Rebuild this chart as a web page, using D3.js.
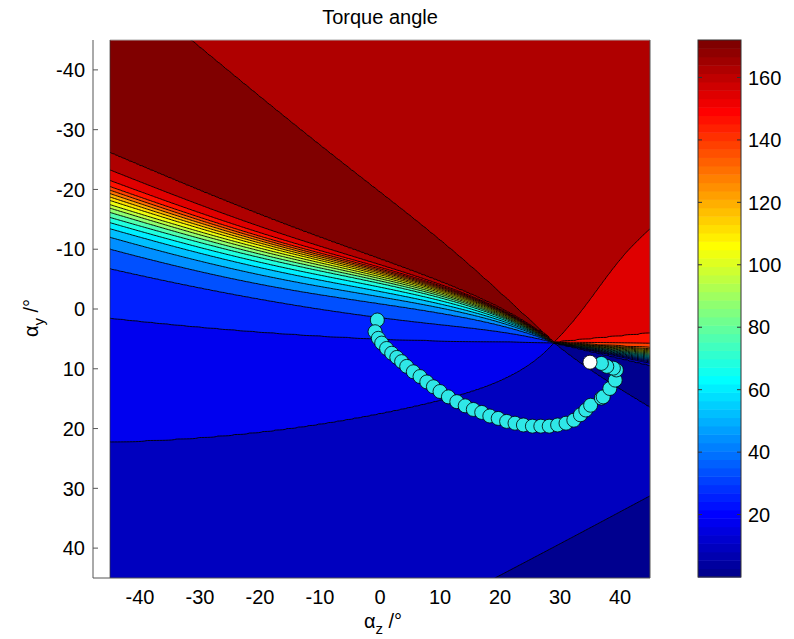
<!DOCTYPE html>
<html>
<head>
<meta charset="utf-8">
<script src="https://cdn.jsdelivr.net/npm/d3@7"></script>
<style>
  body { margin: 0; background: #fff; }
  text { font-family: "Liberation Sans", Arial, sans-serif; fill: #000; }
</style>
</head>
<body>
<svg id="chart" width="794" height="639"></svg>
<script>
// contour levels (deg) and colour range
const levels = [0, 8.6, 17.2, 25.8, 34.4, 43, 51.6, 60.2, 68.8, 77.4, 86, 94.6,
                103.2, 111.8, 120.4, 129, 137.6, 146.2, 154.8, 163.4, 172];
const colorRange = [0, 172];
const xTicks = [-40, -30, -20, -10, 0, 10, 20, 30, 40];
const yTicks = [-40, -30, -20, -10, 0, 10, 20, 30, 40];
const cbTicks = [20, 40, 60, 80, 100, 120, 140, 160];

// singular point where all the contour lines meet
const pole = [29, 5.6];
const nodeRadii = [0, 5, 20, 45, 80];
// value of each contour line leaving the pole, and its direction (deg, clockwise from +az)
const nodeValues = [163.4, 154.8, 146.2, 137.6, 129, 120.4, 111.8, 103.2, 94.6, 86, 77.4,
                    68.8, 60.2, 51.6, 43, 34.4, 25.8, 17.2, 8.6, 3, 8.6, 17.2, 25.8, 34.4,
                    43, 51.6, 60.2, 68.8, 77.4, 86, 94.6, 103.2, 111.8, 120.4, 129, 137.6,
                    146.2, 154.8, 163.4, 172, 176, 172];
const nodeAngles = [
  [-45, -47, -55, -40, -40],
  [-6, -5.5, -5.5, -5.5, -5.5],
  [0, 0.5, 0.5, 0.5, 0.5],
  [3.1, 3.1, 3.1, 3.1, 3.1],
  [3.75, 3.75, 3.75, 3.75, 3.75],
  [4.4, 4.4, 4.4, 4.4, 4.4],
  [5.05, 5.05, 5.05, 5.05, 5.05],
  [5.7, 5.7, 5.7, 5.7, 5.7],
  [6.35, 6.35, 6.35, 6.35, 6.35],
  [7, 7, 7, 7, 7],
  [7.65, 7.65, 7.65, 7.65, 7.65],
  [8.3, 8.3, 8.3, 8.3, 8.3],
  [8.95, 8.95, 8.95, 8.95, 8.95],
  [9.6, 9.6, 9.6, 9.6, 9.6],
  [10.25, 10.25, 10.25, 10.25, 10.25],
  [10.9, 10.9, 10.9, 10.9, 10.9],
  [11.55, 11.55, 11.55, 11.55, 11.55],
  [12.2, 12.2, 12.2, 12.2, 12.2],
  [13.3, 13.3, 13.3, 13.3, 13.3],
  [22, 22, 22, 22, 22],
  [40, 38, 33, 33, 33],
  [128, 136, 154, 162, 168],
  [181, 180.8, 180.7, 181.8, 183.4],
  [196, 193, 188, 188, 189.7],
  [203, 200, 194, 190.5, 192.1],
  [206, 203.3, 196.5, 192.3, 193.5],
  [208, 205.3, 198.4, 193.7, 194.5],
  [209.5, 207, 200.1, 194.7, 195.2],
  [211, 208.5, 201.5, 195.6, 195.8],
  [212, 209.5, 202.4, 196.2, 196.4],
  [213, 210.4, 203.2, 196.8, 196.9],
  [214, 211.3, 203.9, 197.3, 197.3],
  [215, 212.2, 204.5, 197.8, 197.8],
  [215.8, 213, 205, 198.2, 198.2],
  [216.5, 213.6, 205.5, 198.6, 198.6],
  [217.2, 214.2, 205.9, 199, 199],
  [218, 214.8, 206.3, 199.4, 199.4],
  [218.8, 215.5, 206.6, 200, 200.1],
  [219.5, 216, 207, 201.1, 201.3],
  [220.2, 216.6, 208, 203.3, 203.2],
  [221, 219.7, 215.8, 211.9, 211.5],
  [222, 222.7, 223, 220, 219.9]
];
// low pocket in the lower right corner
const dipAnchor = [18.9, 44.8];
const dipNormal = [0.458, 0.889];
const dipOffset = -0.3;
const dipSlope = 8;

// trajectory (az, ay) and start point
const pathZ = [-0.45, -0.83, -0.28, 0.28, 1.1, 1.95, 2.8, 3.6, 4.45, 5.55, 6.67, 7.8, 8.9,
               10, 11.4, 12.8, 14.2, 15.55, 16.95, 18.3, 19.7, 21.1, 22.5, 23.9, 25.4, 26.8,
               28.2, 29.6, 31, 32.3, 33.4, 34.3, 35.1, 36.9, 37.2, 38.3, 39.2, 39.4, 38.9,
               37.8, 36.9];
const pathY = [1.84, 3.8, 4.9, 5.7, 6.6, 7.4, 8.1, 8.8, 9.6, 10.5, 11.3, 12.2, 13.0,
               13.8, 14.7, 15.5, 16.2, 16.8, 17.3, 17.9, 18.3, 18.8, 19.1, 19.4, 19.6, 19.6,
               19.6, 19.4, 19.1, 18.6, 17.7, 16.9, 16.1, 14.9, 14.7, 13.3, 11.9, 10.2, 9.9,
               9.6, 9.1];
const startPoint = [35, 8.9];

const svg = d3.select("#chart");
const x = d3.scaleLinear().domain([-45, 45]).range([110, 650]);
const y = d3.scaleLinear().domain([-45, 45]).range([40, 578]);

function jet(t) {
  const c = v => Math.max(0, Math.min(1, v));
  return d3.rgb(255 * c(Math.min(4 * t - 1.5, 4.5 - 4 * t)),
                255 * c(Math.min(4 * t - 0.5, 3.5 - 4 * t)),
                255 * c(Math.min(4 * t + 0.5, 2.5 - 4 * t)));
}
// 64 entry colormap like matlab
function levelColor(v) {
  let i = Math.floor((v - colorRange[0]) / (colorRange[1] - colorRange[0]) * 64) + 1;
  i = Math.max(1, Math.min(64, i));
  return jet(i / 64);
}

// smooth direction of every line as we move away from the pole
const rMax = nodeRadii[nodeRadii.length - 1];
const nodeCurves = nodeAngles.map(a => d3.interpolateBasis(a));

function torqueAngle(az, ay) {
  const u = az - pole[0], v = ay - pole[1];
  const r = Math.hypot(u, v);
  const t = Math.sqrt(Math.min(r, rMax) / rMax);
  let phi = Math.atan2(v, u) * 180 / Math.PI;
  const ang = nodeCurves.map(f => f(t));
  const n = ang.length;
  while (phi < ang[0]) phi += 360;
  while (phi >= ang[0] + 360) phi -= 360;
  let val = nodeValues[0];
  for (let i = 0; i < n; i++) {
    const a0 = ang[i], a1 = i + 1 < n ? ang[i + 1] : ang[0] + 360;
    if (phi >= a0 && phi < a1) {
      const v0 = nodeValues[i], v1 = nodeValues[(i + 1) % n];
      val = v0 + (v1 - v0) * (phi - a0) / (a1 - a0);
      break;
    }
  }
  const s = dipNormal[0] * (az - dipAnchor[0]) + dipNormal[1] * (ay - dipAnchor[1]);
  val -= dipSlope * Math.max(0, s - dipOffset);
  return Math.max(val, 0.5);
}

// grid
const step = 0.25;
const nx = Math.round(90 / step) + 1, ny = nx;
const grid = new Float64Array(nx * ny);
for (let j = 0; j < ny; j++) {
  for (let i = 0; i < nx; i++) {
    grid[j * nx + i] = torqueAngle(-45 + i * step, -45 + j * step);
  }
}

const contours = d3.contours().size([nx, ny]).thresholds(levels)(grid);

const path = d3.geoPath(d3.geoTransform({
  point: function(gx, gy) {
    this.stream.point(x(-45 + (gx - 0.5) * step), y(-45 + (gy - 0.5) * step));
  }
}));

svg.append("clipPath").attr("id", "plotClip")
  .append("rect")
  .attr("x", x(-45)).attr("y", y(-45))
  .attr("width", x(45) - x(-45)).attr("height", y(45) - y(-45));

const plot = svg.append("g").attr("clip-path", "url(#plotClip)");

plot.selectAll("path.band")
  .data(contours)
  .enter().append("path")
  .attr("class", "band")
  .attr("d", path)
  .attr("fill", d => levelColor(d.value))
  .attr("stroke", (d, i) => i === 0 ? "none" : "#000")
  .attr("stroke-width", 0.9)
  .attr("stroke-linejoin", "round");

// plot border
svg.append("line")
  .attr("x1", x(-45)).attr("x2", x(45))
  .attr("y1", y(-45)).attr("y2", y(-45))
  .attr("stroke", "#aaa");
svg.append("line")
  .attr("x1", x(45)).attr("x2", x(45))
  .attr("y1", y(-45)).attr("y2", y(45))
  .attr("stroke", "#555");
svg.append("line")
  .attr("x1", x(-45)).attr("x2", x(-45))
  .attr("y1", y(-45)).attr("y2", y(45))
  .attr("stroke", "#333").attr("stroke-width", 0.7);

// trajectory
const pts = pathZ.map((z, i) => [z, pathY[i]]);
svg.append("g").selectAll("circle")
  .data(pts)
  .enter().append("circle")
  .attr("cx", d => x(d[0]))
  .attr("cy", d => y(d[1]))
  .attr("r", 7)
  .attr("fill", "#2fe8e8")
  .attr("stroke", "#000")
  .attr("stroke-width", 0.8);

svg.append("circle")
  .attr("cx", x(startPoint[0])).attr("cy", y(startPoint[1]))
  .attr("r", 7)
  .attr("fill", "#fff").attr("stroke", "#000").attr("stroke-width", 0.8);

// axes
const axisColor = "#555";
const axisLeft = 93;
svg.append("line")
  .attr("x1", axisLeft).attr("x2", axisLeft)
  .attr("y1", y(-45)).attr("y2", y(45))
  .attr("stroke", axisColor);
svg.append("line")
  .attr("x1", axisLeft).attr("x2", x(45))
  .attr("y1", y(45)).attr("y2", y(45))
  .attr("stroke", axisColor);

svg.append("g").selectAll("line")
  .data(yTicks)
  .enter().append("line")
  .attr("x1", axisLeft).attr("x2", axisLeft + 5)
  .attr("y1", d => y(d)).attr("y2", d => y(d))
  .attr("stroke", axisColor);

svg.append("g").selectAll("text")
  .data(yTicks)
  .enter().append("text")
  .attr("x", axisLeft - 8)
  .attr("y", d => y(d))
  .attr("dy", "0.36em")
  .attr("text-anchor", "end")
  .style("font-size", "20px")
  .text(d => d);

svg.append("g").selectAll("text")
  .data(xTicks)
  .enter().append("text")
  .attr("x", d => x(d))
  .attr("y", y(45) + 26)
  .attr("text-anchor", "middle")
  .style("font-size", "20px")
  .text(d => d);

svg.append("text")
  .attr("x", 380).attr("y", 24)
  .attr("text-anchor", "middle")
  .style("font-size", "20px")
  .text("Torque angle");

const xl = svg.append("text")
  .attr("x", 383).attr("y", 628)
  .attr("text-anchor", "middle")
  .style("font-size", "20px");
xl.append("tspan").text("\u03b1");
xl.append("tspan").attr("dy", 6).style("font-size", "15px").text("z");
xl.append("tspan").attr("dy", -6).text(" /\u00b0");

const yl = svg.append("text")
  .attr("transform", "translate(38," + 318 + ") rotate(-90)")
  .attr("text-anchor", "middle")
  .style("font-size", "20px");
yl.append("tspan").text("\u03b1");
yl.append("tspan").attr("dy", 6).style("font-size", "15px").text("y");
yl.append("tspan").attr("dy", -6).text(" /\u00b0");

// colorbar
const cbX = 698, cbW = 43;
const cy = d3.scaleLinear().domain(colorRange).range([577, 40]);
const cbSteps = d3.range(64);
const cbStep = (colorRange[1] - colorRange[0]) / 64;
const cb = svg.append("g");
cb.selectAll("rect")
  .data(cbSteps)
  .enter().append("rect")
  .attr("x", cbX)
  .attr("width", cbW)
  .attr("y", i => cy(colorRange[0] + (i + 1) * cbStep))
  .attr("height", i => cy(colorRange[0] + i * cbStep) - cy(colorRange[0] + (i + 1) * cbStep) + 0.5)
  .attr("fill", i => jet((i + 1) / 64));
cb.append("rect")
  .attr("x", cbX).attr("y", cy(colorRange[1]))
  .attr("width", cbW).attr("height", cy(colorRange[0]) - cy(colorRange[1]))
  .attr("fill", "none").attr("stroke", "#333");
cb.selectAll("line.tl")
  .data(cbTicks)
  .enter().append("line")
  .attr("x1", cbX).attr("x2", cbX + 4)
  .attr("y1", d => cy(d)).attr("y2", d => cy(d))
  .attr("stroke", "#333");
cb.selectAll("line.tr")
  .data(cbTicks)
  .enter().append("line")
  .attr("x1", cbX + cbW - 4).attr("x2", cbX + cbW)
  .attr("y1", d => cy(d)).attr("y2", d => cy(d))
  .attr("stroke", "#333");
cb.selectAll("text")
  .data(cbTicks)
  .enter().append("text")
  .attr("x", cbX + cbW + 7)
  .attr("y", d => cy(d))
  .attr("dy", "0.36em")
  .style("font-size", "20px")
  .text(d => d);
</script>
</body>
</html>
